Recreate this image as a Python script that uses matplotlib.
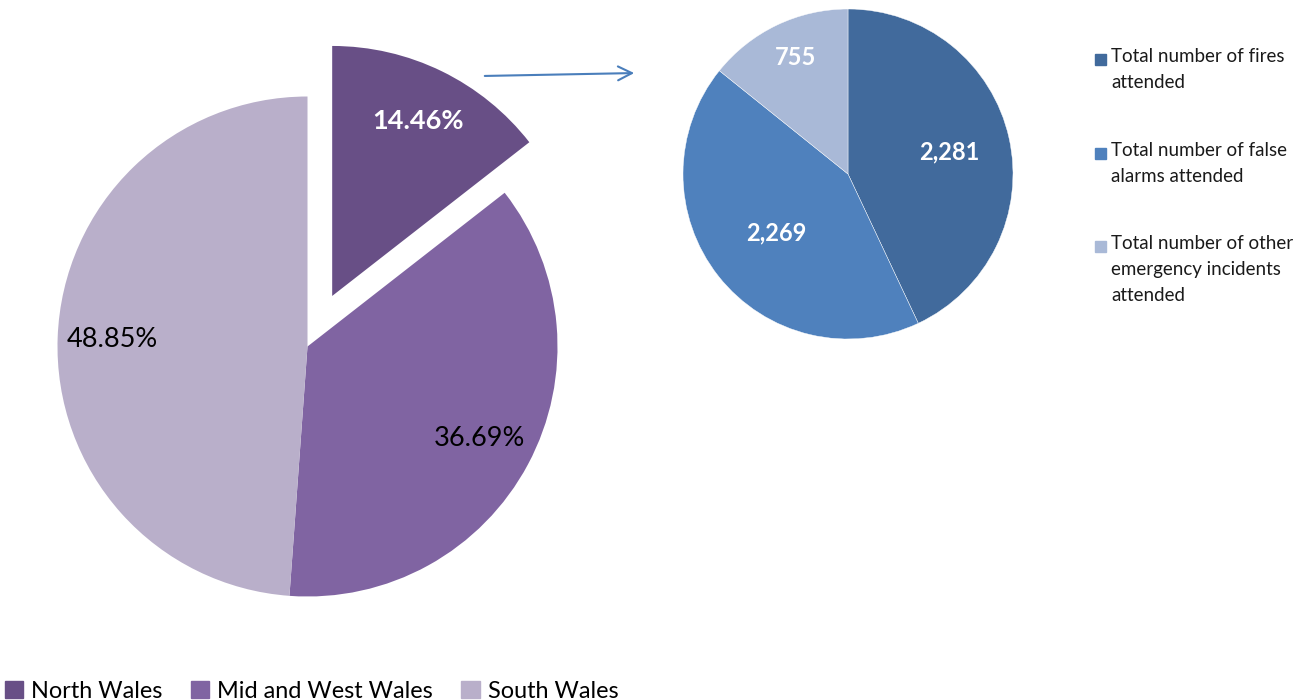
import matplotlib
matplotlib.use('Agg')
import matplotlib.pyplot as plt
from matplotlib.patches import Patch, Rectangle
import numpy as np

# -----------------------------
# DATA
# -----------------------------
regions = ["North Wales", "Mid and West Wales", "South Wales"]
region_share = [14.46, 36.69, 48.85]
region_labels = ["14.46%", "36.69%", "48.85%"]

incident_types = ["Total number of fires\nattended",
                  "Total number of false\nalarms attended",
                  "Total number of other\nemergency incidents\nattended"]
incident_counts = [2281, 2269, 755]

purples = ["#684F86", "#8064A2", "#B9AFCA"]
blues = ["#416A9C", "#4F81BD", "#A9B9D7"]

W, H = 1302, 700
plt.rcParams['font.family'] = ['Lato', 'DejaVu Sans']
fig = plt.figure(figsize=(W / 100, H / 100), dpi=100)


def px_axes(cx, cy, r, lim):
    # axes centred at pixel (cx, cy from top), pie radius r pixels
    size = 2 * r * lim
    ax = fig.add_axes([(cx - size / 2) / W, 1 - (cy + size / 2) / H, size / W, size / H])
    ax.set_xlim(-lim, lim)
    ax.set_ylim(-lim, lim)
    ax.set_aspect('equal')
    ax.axis('off')
    return ax


# -----------------------------
# LEFT PIE (regions)
# -----------------------------
ax1 = px_axes(307.5, 346.5, 250, 1.3)
wedges1, texts1, auto1 = ax1.pie(region_share, colors=purples, startangle=90, counterclock=False,
                                 explode=[0.225, 0, 0], radius=1, autopct='%.2f%%',
                                 pctdistance=0.78, frame=True)
ax1.set_xlim(-1.3, 1.3)
ax1.set_ylim(-1.3, 1.3)
ax1.axis('off')
for i, t in enumerate(auto1):
    t.set_text(region_labels[i])
    t.set_fontsize(19.5)
    if i == 0:
        t.set_color('white')
        t.set_fontweight('bold')
    else:
        t.set_color('black')

# -----------------------------
# RIGHT PIE (incident types)
# -----------------------------
ax2 = px_axes(848, 174, 165, 1.1)
wedges2, _ = ax2.pie(incident_counts, colors=blues, startangle=90, counterclock=False,
                     radius=1, frame=True,
                     wedgeprops=dict(edgecolor='white', linewidth=0.3))
ax2.set_xlim(-1.1, 1.1)
ax2.set_ylim(-1.1, 1.1)
ax2.axis('off')
label_dist = [0.61, 0.58, 0.78]
for w, v, d in zip(wedges2, incident_counts, label_dist):
    ang = np.deg2rad((w.theta1 + w.theta2) / 2)
    ax2.text(d * np.cos(ang) + 0.02, d * np.sin(ang), f"{v:,}", color='white', fontsize=17,
             fontweight='bold', ha='center', va='center')

# -----------------------------
# ARROW
# -----------------------------
fig.add_artist(matplotlib.patches.FancyArrowPatch(
    (482 / W, 1 - 76 / H), (637 / W, 1 - 73 / H), transform=fig.transFigure,
    arrowstyle='->,head_length=10,head_width=5', color='#4A7EBB', lw=1.5))

# -----------------------------
# RIGHT LEGEND
# -----------------------------
tops = [48, 142, 235]
for lab, col, top in zip(incident_types, blues, tops):
    fig.add_artist(Rectangle((1095 / W, 1 - (top + 17) / H), 11 / W, 11 / H,
                             transform=fig.transFigure, color=col))
    fig.text(1111 / W, 1 - top / H, lab, fontsize=13.5, va='top', ha='left',
             linespacing=1.63, color='#1a1a1a')

# -----------------------------
# BOTTOM LEGEND
# -----------------------------
handles = [Patch(color=c) for c in purples]
fig.legend(handles, regions, loc='lower left', bbox_to_anchor=(0, -0.009), ncol=3,
           frameon=False, fontsize=16.9, handlelength=0.78, handleheight=0.78,
           handletextpad=0.35, columnspacing=1.2, borderaxespad=0, borderpad=0.2)

plt.savefig("out.png", dpi=100)
plt.close()
